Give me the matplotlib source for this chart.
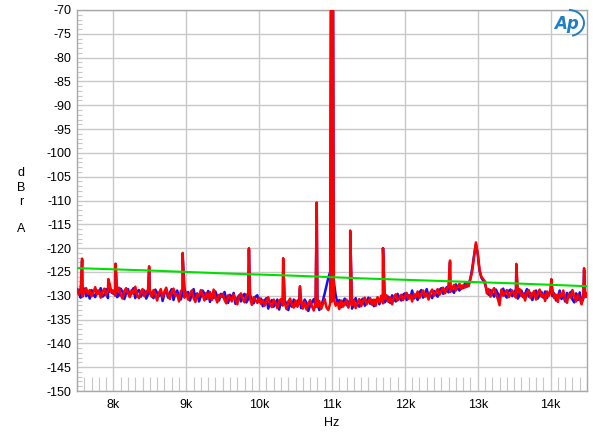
import matplotlib.pyplot as plt
import matplotlib.patches as mpatches
import numpy as np
from matplotlib.ticker import FixedLocator, MultipleLocator

plt.rcParams["font.family"] = ["Liberation Sans", "DejaVu Sans"]
plt.rcParams["axes.unicode_minus"] = False

# noise floor, one value every 25 Hz from 7.5 kHz to 14.5 kHz
FREQ_START_HZ = 7500
FREQ_STEP_HZ = 25

red_floor_db = [
    -128.6, -129.8, -128.9, -130.2, -129.1, -128.4, -129.6, -128.8, -130.1, -129.3, -128.2, -129.7, -128.9, -130.4, -129.2, -128.5, -129.9, -128.7, -127.6, -129.4,
    -128.9, -130.0, -129.1, -128.3, -129.8, -130.6, -129.0, -128.4, -129.5, -130.3, -128.8, -129.6, -128.1, -129.9, -130.5, -129.2, -128.6, -130.1, -129.3, -128.7,
    -129.5, -130.2, -128.8, -129.7, -131.0, -129.4, -128.6, -130.3, -129.1, -128.3, -129.9, -130.7, -129.2, -128.5, -130.0, -129.6, -131.2, -129.0, -128.7, -130.4,
    -129.3, -130.8, -129.6, -128.9, -130.5, -131.3, -129.7, -130.1, -128.8, -129.9, -131.0, -129.4, -130.6, -129.2, -130.9, -128.7, -130.3, -131.4, -129.8, -130.2,
    -129.6, -130.9, -131.6, -129.9, -130.4, -131.2, -129.7, -130.8, -131.8, -130.1, -129.5, -130.7, -131.4, -130.0, -129.4, -130.6, -131.9, -130.3, -130.9, -131.5,
    -130.4, -131.7, -130.9, -132.1, -131.0, -130.3, -131.8, -132.4, -130.8, -131.5, -132.6, -131.1, -130.7, -132.0, -131.4, -132.8, -131.2, -130.6, -131.9, -132.5,
    -131.0, -132.3, -131.6, -130.8, -132.7, -131.3, -132.9, -131.7, -130.9, -132.2, -133.1, -131.5, -132.4, -131.1, -132.8, -131.8, -130.7, -132.5, -133.0, -131.6,
    -131.2, -130.6, -132.1, -131.4, -132.8, -131.0, -132.3, -131.7, -130.8, -132.5, -131.3, -132.0, -130.9, -132.6, -131.5, -130.7, -132.2, -131.1, -130.4, -131.8,
    -131.2, -130.5, -131.9, -130.8, -132.1, -130.3, -131.4, -130.0, -131.6, -130.7, -129.9, -131.3, -130.4, -131.8, -130.2, -129.7, -131.0, -130.5, -129.8, -130.9,
    -130.1, -129.4, -130.7, -129.8, -131.2, -129.6, -130.3, -129.1, -130.5, -129.7, -128.9, -130.2, -129.5, -130.8, -129.3, -128.7, -130.0, -129.2, -128.6, -129.8,
    -129.0, -128.3, -129.5, -128.7, -127.9, -129.2, -128.4, -127.7, -128.9, -128.1, -127.5, -128.6, -127.8, -128.3, -127.2, -128.0, -126.5, -124.8, -121.8, -118.8,
    -121.0, -124.5, -126.0, -126.5, -127.0, -129.5, -128.6, -130.2, -129.0, -128.4, -129.7, -130.6, -132.0, -128.7, -130.0, -129.4, -128.8, -130.3, -129.6, -128.9,
    -129.8, -130.4, -129.2, -128.6, -130.1, -129.5, -131.0, -129.3, -128.8, -130.5, -129.7, -129.0, -130.8, -129.4, -128.7, -130.2, -129.6, -131.1, -129.1, -130.0,
    -129.3, -128.6, -130.5, -129.8, -131.3, -129.5, -130.2, -128.9, -130.7, -131.5, -129.6, -130.4, -128.8, -130.1, -131.2, -129.7, -130.6, -131.8, -129.9, -130.3,
    -129.5,
]

blue_floor_db = [
    -129.3, -128.7, -130.4, -129.0, -128.5, -130.1, -129.4, -130.6, -128.8, -129.7, -130.3, -128.9, -129.5, -128.4, -130.2, -129.8, -128.6, -130.5, -129.1, -128.8,
    -129.6, -128.7, -130.3, -129.9, -128.5, -129.2, -130.7, -129.4, -128.6, -130.0, -129.3, -128.4, -130.5, -129.1, -128.8, -130.2, -129.5, -128.9, -130.6, -129.7,
    -128.9, -129.8, -130.5, -128.7, -129.4, -130.1, -129.0, -131.1, -129.6, -128.8, -130.4, -129.3, -128.6, -130.9, -129.5, -128.9, -130.2, -130.8, -129.4, -128.5,
    -130.0, -129.2, -131.0, -129.8, -128.6, -130.4, -129.5, -131.2, -130.1, -128.9, -129.6, -130.7, -129.0, -131.3, -129.7, -130.5, -129.1, -130.2, -131.0, -129.6,
    -130.3, -129.2, -130.8, -131.5, -129.8, -130.6, -129.4, -131.7, -130.5, -129.9, -131.2, -130.0, -129.6, -131.4, -130.7, -129.8, -130.9, -131.6, -130.2, -129.9,
    -131.3, -130.6, -132.2, -131.0, -130.5, -132.7, -131.4, -130.9, -132.3, -131.6, -130.8, -132.9, -131.2, -132.0, -130.9, -131.7, -133.0, -131.5, -132.3, -130.8,
    -132.1, -131.3, -130.6, -132.6, -131.9, -130.8, -131.5, -133.2, -132.0, -131.4, -130.7, -132.3, -131.2, -133.0, -132.1, -131.0, -129.5, -127.8, -126.2, -125.0,
    -125.5, -127.0, -129.8, -131.6, -130.9, -132.4, -131.2, -130.6, -132.0, -131.5, -130.8, -132.7, -131.3, -130.5, -131.9, -132.3, -131.0, -130.6, -132.1, -131.2,
    -130.4, -131.7, -130.9, -132.2, -131.0, -130.5, -131.8, -130.6, -129.8, -131.4, -130.8, -130.2, -131.5, -129.9, -130.7, -131.2, -129.6, -130.4, -131.0, -129.8,
    -129.5, -130.9, -129.9, -130.4, -128.9, -130.6, -129.8, -130.9, -129.3, -128.8, -130.4, -129.6, -128.6, -130.1, -129.8, -130.5, -129.0, -129.7, -130.2, -128.8,
    -128.4, -129.6, -128.9, -128.2, -129.3, -128.0, -128.8, -129.4, -127.6, -128.5, -128.9, -127.9, -128.4, -127.4, -128.1, -127.6, -126.3, -124.2, -121.5, -119.2,
    -121.3, -124.8, -126.2, -126.8, -127.5, -128.9, -129.8, -128.8, -129.4, -130.2, -128.7, -129.5, -130.5, -129.2, -128.5, -129.9, -130.4, -129.0, -128.7, -130.1,
    -129.3, -128.7, -130.6, -129.9, -128.9, -130.3, -129.6, -128.6, -130.2, -129.4, -130.9, -129.6, -128.9, -130.6, -129.8, -129.2, -130.4, -129.1, -130.5, -129.6,
    -128.8, -130.1, -129.5, -131.0, -130.2, -128.9, -130.7, -129.8, -131.2, -129.4, -130.1, -129.2, -130.8, -131.4, -129.5, -130.9, -129.3, -131.5, -130.6, -129.8,
    -130.2,
]

# narrow spectral lines (kHz, dBr)
spike_khz = [7.57, 7.93, 8.03, 8.49, 8.95, 9.86, 10.33, 10.56, 10.79, 10.995, 11.005,
             11.25, 11.70, 12.62, 13.53, 14.01, 14.46]
red_spike_db = [-122.2, -126.5, -123.3, -123.8, -121.0, -120.0, -122.1, -128.0, -110.4, -10.0, -10.0,
                -116.3, -120.0, -122.6, -123.3, -126.5, -124.2]
blue_spike_db = [-122.6, -126.9, -123.3, -124.2, -121.4, -120.3, -122.5, -128.5, -110.8, -10.0, -10.0,
                 -116.8, -120.0, -123.0, -123.6, -126.9, -124.6]

# reference level line
green_khz = [7.5, 8.5, 9.5, 10.5, 11.5, 12.5, 13.5, 14.5]
green_db = [-124.2, -124.7, -125.3, -125.8, -126.4, -126.9, -127.4, -128.0]


def build_trace(floor_db, spikes_db):
    f = (FREQ_START_HZ + FREQ_STEP_HZ * np.arange(len(floor_db))) / 1000.0
    x = np.concatenate([f, spike_khz])
    y = np.concatenate([floor_db, spikes_db])
    order = np.argsort(x, kind="stable")
    return x[order], y[order]


fig = plt.figure(figsize=(6.0, 4.33), dpi=100)
ax = fig.add_axes([77 / 600, 1 - 391 / 433, 510 / 600, 381 / 433])

grid_c = "#c8c8c8"
ax.set_xlim(7.5, 14.5)
ax.set_ylim(-150, -70)
ax.xaxis.set_major_locator(FixedLocator(list(range(8, 15))))
ax.xaxis.set_minor_locator(MultipleLocator(0.1))
ax.yaxis.set_major_locator(MultipleLocator(5))
ax.yaxis.set_minor_locator(MultipleLocator(1))
ax.set_xticklabels([f"{k}k" for k in range(8, 15)])
ax.grid(True, which="major", color=grid_c, linewidth=1.0, zorder=0)
ax.tick_params(which="major", length=0, labelsize=9, colors="black")
ax.tick_params(axis="y", which="major", pad=4)
ax.tick_params(axis="x", which="major", pad=6)
ax.tick_params(axis="y", which="minor", direction="in", length=3.8, color=grid_c, width=0.8)
ax.tick_params(axis="x", which="minor", direction="in", length=10, color=grid_c, width=0.8)
for s in ax.spines.values():
    s.set_color("#a8a8a8")
    s.set_linewidth(1.0)

bx, by = build_trace(blue_floor_db, blue_spike_db)
rx, ry = build_trace(red_floor_db, red_spike_db)
ax.plot(bx, by, color="#1010ff", linewidth=1.8, zorder=2)
ax.plot(rx, ry, color="#ff0000", linewidth=1.8, zorder=3)
ax.plot(green_khz, green_db, color="#00e000", linewidth=1.5, zorder=4)

ax.set_xlabel("Hz", fontsize=9, labelpad=4)

for letter, ypix in zip(["d", "B", "r", "A"], [173, 188, 202, 229]):
    fig.text(21 / 600, 1 - ypix / 433, letter, ha="center", va="center", fontsize=9)

# AP logo
fig.text(566 / 600, 1 - 24 / 433, "Ap", ha="center", va="center", fontsize=12,
         style="italic", fontweight="bold", color="#1f7fc4", fontfamily="DejaVu Sans")
arc = mpatches.Arc((569 / 600, 1 - 23 / 433), 30 / 600, 26 / 433, theta1=-80, theta2=90,
                   transform=fig.transFigure, color="#1f7fc4", linewidth=1.4)
fig.add_artist(arc)

fig.savefig("out.png", dpi=100, facecolor="white")
